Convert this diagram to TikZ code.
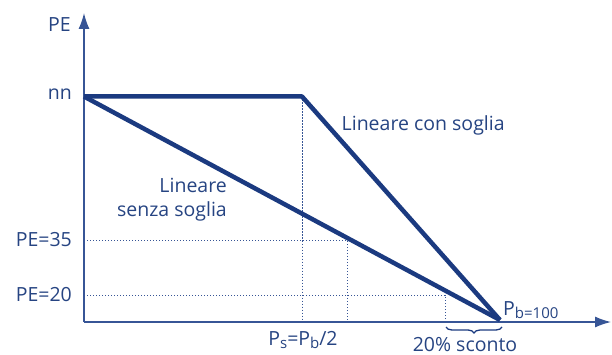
\documentclass[tikz,border=0pt]{standalone}
\usepackage{fontspec}
\setmainfont{Open Sans}
\usetikzlibrary{arrows.meta,decorations.pathreplacing}
\definecolor{navy}{RGB}{27,58,128}
\definecolor{txt}{RGB}{38,68,130}
\definecolor{axc}{RGB}{55,85,150}
\newcommand{\lowsub}[1]{\raisebox{-3.5pt}{\fontsize{15}{15}\selectfont #1}}
\tikzset{
  axis/.style={draw=axc,line width=1.3pt,-{Latex[length=16pt,width=11pt]}},
  curve/.style={draw=navy,line width=4.5pt,line join=round,line cap=butt},
  guide/.style={draw=axc,line width=0.9pt,dash pattern=on 1.2pt off 1.8pt},
  lbl/.style={text=txt,inner sep=0pt,font=\fontsize{19.5}{23}\selectfont},
}
\begin{document}
\begin{tikzpicture}[x=1pt,y=-1pt]
\useasboundingbox (0,0) rectangle (612,355);
\coordinate (O) at (84,322);
\coordinate (Ytop) at (84,13);
\coordinate (Xend) at (611,322);
\coordinate (A) at (84,96.5);
\coordinate (B) at (302,96.5);
\coordinate (Pb) at (500,320);
\coordinate (B0) at (302,322);
\coordinate (C35) at (84,240);
\coordinate (D35) at (347,240);
\coordinate (D35b) at (347,322);
\coordinate (C20) at (84,295);
\coordinate (D20) at (445,295);
\coordinate (D20b) at (445,322);
\coordinate (BrL) at (446,327);
\coordinate (BrR) at (502,327);
% guides
\draw[guide] (B) -- (B0);
\draw[guide] (C35) -- (D35) -- (D35b);
\draw[guide] (C20) -- (D20) -- (D20b);
% axes
\draw[axis] (O) -- (Ytop);
\draw[axis] (O) -- (Xend);
% curves
\draw[curve] (A) -- (B) -- (Pb);
\draw[curve] (A) -- (Pb);
% brace
\draw[navy,line width=1.3pt,decorate,decoration={brace,mirror,amplitude=6pt}] (BrL) -- (BrR);
% labels
\node[lbl,anchor=base east] (lPE) at (71,31.5) {PE};
\node[lbl,anchor=base east] (lnn) at (72,100) {nn};
\node[lbl,anchor=base east] (l35) at (72,246.5) {PE=35};
\node[lbl,anchor=base east] (l20) at (72,301.5) {PE=20};
\node[lbl,anchor=base] (lPs) at (303,345) {P\lowsub{s}=P\lowsub{b}/2};
\node[lbl,anchor=base] (lsc) at (465,351.5) {20\% sconto};
\node[lbl,anchor=base west] (lPb) at (503,315) {P\lowsub{b=100}};
\node[lbl,anchor=base west] (lcon) at (341.5,130.5) {Lineare con soglia};
\node[lbl,anchor=base east] (lsen1) at (227,192.5) {Lineare};
\node[lbl,anchor=base east] (lsen2) at (227,217) {senza soglia};
\end{tikzpicture}
\end{document}
